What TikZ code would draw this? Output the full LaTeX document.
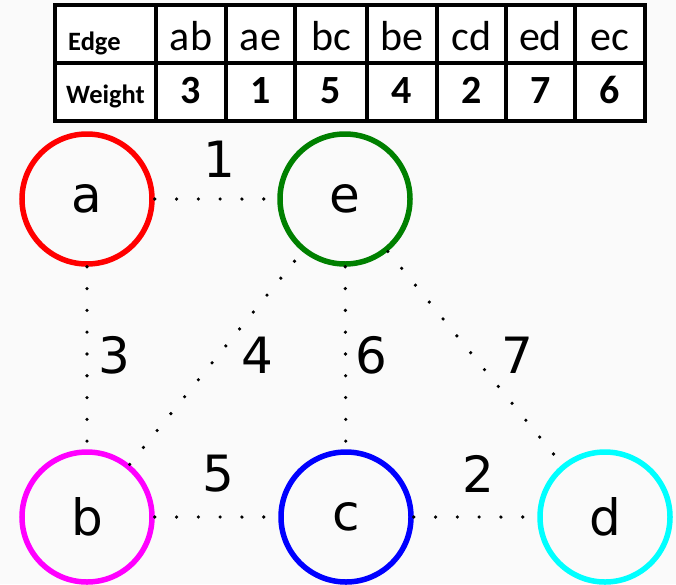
\documentclass[tikz,border=0pt]{standalone}
\usepackage{fontspec}
\setmainfont{DejaVu Sans}
\newfontfamily\carl{Carlito}
\definecolor{bg}{RGB}{250,250,250}
\definecolor{ered}{RGB}{255,0,0}
\definecolor{egreen}{RGB}{0,128,0}
\definecolor{emag}{RGB}{255,0,255}
\definecolor{eblue}{RGB}{0,0,255}
\definecolor{ecyan}{RGB}{0,255,255}
\begin{document}
\begin{tikzpicture}[x=1pt,y=-1pt,
  vert/.style={circle,draw,line width=5.5pt,minimum size=130pt,inner sep=0pt,font=\fontsize{50}{60}\selectfont},
  edgeline/.style={line width=3.6pt,line cap=round,dash pattern=on 0pt off 21.8pt},
  wlabel/.style={font=\fontsize{50}{60}\selectfont,inner sep=0pt},
  cell/.style={draw,line width=4.5pt,fill=white,inner sep=0pt,outer sep=0pt},
  head/.style={font=\carl\fontsize{42}{48}\selectfont,inner sep=0pt,anchor=base},
  weight/.style={font=\carl\bfseries\fontsize{40}{48}\selectfont,inner sep=0pt,anchor=base},
  rowname/.style={font=\carl\bfseries\fontsize{26.5}{30}\selectfont,inner sep=0pt,anchor=base west}]
\fill[bg] (0,0) rectangle (676,584);
\useasboundingbox (0,0) rectangle (676,584);
% table
\foreach \xa/\xb [count=\i] in {55/156,156/226,226/295,295/367,367/437,437/506,506/575,575/645}{
  \draw[cell] (\xa,5) rectangle (\xb,63);
  \draw[cell] (\xa,63) rectangle (\xb,121);
}
\node[rowname] (hedge) at (68,50) {Edge};
\node[rowname] (hweight) at (66,103) {Weight};
\foreach \x/\t/\w [count=\i] in {191/ab/3,260.5/ae/1,331/bc/5,402/be/4,471.5/cd/2,540.5/ed/7,610/ec/6}{
  \node[head] (h\i) at (\x,50) {\t};
  \node[weight] (w\i) at (\x,103) {\w};
}
% vertices
\node[vert,draw=ered] (a) at (87,199) {a};
\node[vert,draw=egreen] (e) at (345,199) {e};
\node[vert,draw=emag] (b) at (87,517) {b};
\node[vert,draw=eblue] (c) at (346,517) {c};
\node[vert,draw=ecyan] (d) at (605,517) {d};
% edges
\draw[edgeline] (a) -- (e);
\draw[edgeline] (a) -- (b);
\draw[edgeline] (b) -- (e);
\draw[edgeline] (e) -- (c);
\draw[edgeline] (e) -- (d);
\draw[edgeline] (b) -- (c);
\draw[edgeline] (c) -- (d);
% weights
\node[wlabel] (l1) at (219,159) {1};
\node[wlabel] (l3) at (114,355) {3};
\node[wlabel] (l4) at (257,355) {4};
\node[wlabel] (l6) at (371,355) {6};
\node[wlabel] (l7) at (517,355) {7};
\node[wlabel] (l5) at (218,474) {5};
\node[wlabel] (l2) at (478,474) {2};
\end{tikzpicture}
\end{document}
